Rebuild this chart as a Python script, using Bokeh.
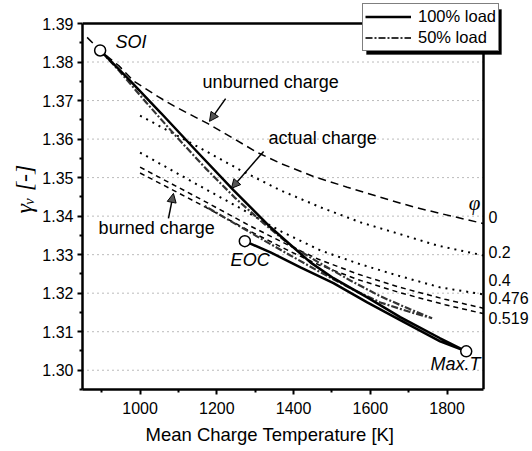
import numpy as np
from bokeh.plotting import figure
from bokeh.models import (Label, Arrow, NormalHead, Legend, LegendItem, Title, BoxAnnotation,
                          FixedTicker, Range1d, NumeralTickFormatter)
from bokeh.embed import file_html
from bokeh.resources import INLINE

# ---------------- data ----------------
x_ticks = [1000, 1200, 1400, 1600, 1800]
x_minor = [900, 1100, 1300, 1500, 1700]
y_ticks = [1.30, 1.31, 1.32, 1.33, 1.34, 1.35, 1.36, 1.37, 1.38, 1.39]
y_minor = [1.295, 1.305, 1.315, 1.325, 1.335, 1.345, 1.355, 1.365, 1.375, 1.385]
T_MIN, T_MAX = 850, 1895
G_MIN, G_MAX = 1.295, 1.39

phi0_T = [862, 896, 945, 984, 1047, 1088, 1177, 1306, 1366, 1452, 1540, 1626, 1712, 1782, 1894]
phi0_g = [1.3864, 1.3830, 1.3790, 1.3750, 1.3710, 1.3686, 1.3640, 1.3565, 1.3537, 1.3503,
          1.3475, 1.3449, 1.3424, 1.3407, 1.3381]

phi02_T = [1000, 1158, 1262, 1366, 1470, 1574, 1678, 1774, 1894]
phi02_g = [1.3661, 1.3576, 1.3519, 1.3467, 1.3423, 1.3384, 1.3353, 1.3324, 1.3298]

phi04_T = [1000, 1158, 1262, 1366, 1470, 1574, 1678, 1782, 1894]
phi04_g = [1.3565, 1.3477, 1.3420, 1.3361, 1.3311, 1.3275, 1.3244, 1.3215, 1.3197]

phi0476_T = [1000, 1158, 1288, 1392, 1465, 1569, 1678, 1795, 1894]
phi0476_g = [1.3527, 1.3444, 1.3374, 1.3322, 1.3288, 1.3249, 1.3215, 1.3184, 1.3161]
phi0519_T = [1000, 1158, 1288, 1392, 1465, 1569, 1678, 1795, 1894]
phi0519_g = [1.3512, 1.3430, 1.3360, 1.3308, 1.3274, 1.3235, 1.3201, 1.3170, 1.3147]

load100_T = [896, 969, 1055, 1145, 1244, 1340, 1444, 1504, 1592, 1678, 1782, 1850,
             1782, 1678, 1592, 1504, 1418, 1340, 1273]
load100_g = [1.3830, 1.3757, 1.3667, 1.3571, 1.3467, 1.3371, 1.3280, 1.3239, 1.3189, 1.3138,
             1.3083, 1.3049, 1.3075, 1.3130, 1.3176, 1.3226, 1.3267, 1.3306, 1.3335]

load50_T = [896, 945, 1016, 1094, 1171, 1249, 1319, 1392, 1465, 1548, 1626, 1704, 1761,
            1704, 1626, 1548, 1465, 1392, 1314, 1236, 1166]
load50_g = [1.3830, 1.3778, 1.3695, 1.3607, 1.3524, 1.3446, 1.3384, 1.3324, 1.3280, 1.3233,
            1.3192, 1.3158, 1.3135, 1.3151, 1.3176, 1.3213, 1.3257, 1.3298, 1.3342, 1.3387, 1.3428]

point_names = ["SOI", "EOC", "Max.T"]
point_T = [896, 1273, 1850]
point_g = [1.3830, 1.3335, 1.3049]

phi_labels = ["0", "0.2", "0.4", "0.476", "0.519"]
phi_label_g = [1.3397, 1.3306, 1.3233, 1.3187, 1.3135]

FONT = "Liberation Sans"

# the data box 850-1895 x 1.295-1.39 is 401 x 366 px; the frame is extended
# right and up so the phi labels and the legend sit inside it
K_PER_PX = (T_MAX - T_MIN) / 401.0
G_PER_PX = (G_MAX - G_MIN) / 366.0
W, H = 532, 451
LEFT, BOTTOM = 82, 62
x_end = T_MIN + (W - LEFT) * K_PER_PX
y_end = G_MIN + (H - BOTTOM) * G_PER_PX

p = figure(width=W, height=H, output_backend="svg", toolbar_location=None,
           x_range=Range1d(T_MIN, x_end), y_range=Range1d(G_MIN, y_end),
           min_border_left=LEFT, min_border_right=0, min_border_top=0, min_border_bottom=BOTTOM,
           title=None)
p.background_fill_color = "white"
p.border_fill_color = "white"
p.outline_line_color = None

p.xaxis.ticker = FixedTicker(ticks=x_ticks, minor_ticks=x_minor)
p.yaxis.ticker = FixedTicker(ticks=y_ticks, minor_ticks=y_minor)
p.yaxis.formatter = NumeralTickFormatter(format="0.00")
p.xaxis.bounds = (T_MIN, T_MAX)
p.yaxis.bounds = (G_MIN, G_MAX)
for ax in (p.xaxis[0], p.yaxis[0]):
    ax.axis_line_width = 2.5
    ax.axis_line_color = "black"
    ax.major_tick_in = 0
    ax.major_tick_out = 5
    ax.minor_tick_in = 0
    ax.minor_tick_out = 3
    ax.major_tick_line_width = 2
    ax.minor_tick_line_width = 2
    ax.major_tick_line_color = "black"
    ax.minor_tick_line_color = "black"
    ax.major_label_text_font = FONT
    ax.major_label_text_font_size = "16px"
    ax.major_label_text_color = "black"
p.yaxis.major_label_standoff = 4
p.xaxis.major_label_standoff = 7

p.xgrid.visible = False
p.ygrid.visible = False
# dotted horizontal grid between the axes
p.segment(x0=[T_MIN] * len(y_ticks), y0=y_ticks, x1=[T_MAX] * len(y_ticks), y1=y_ticks,
          line_color="#777777", line_width=1, line_dash="1 4")
# top and right frame lines
p.segment(x0=[T_MIN, T_MAX], y0=[G_MAX, G_MIN], x1=[T_MAX, T_MAX], y1=[G_MAX, G_MAX],
          line_color="black", line_width=2.5)

# burned / unburned property curves
p.line(phi0_T, phi0_g, line_color="black", line_width=1.5, line_dash="8 5")
p.line(phi02_T, phi02_g, line_color="black", line_width=2, line_dash="2 5")
p.line(phi04_T, phi04_g, line_color="black", line_width=2, line_dash="2 5")
p.line(phi0476_T, phi0476_g, line_color="black", line_width=1.5, line_dash="5 4")
p.line(phi0519_T, phi0519_g, line_color="black", line_width=1.5, line_dash="5 4")

# actual charge loops
r50 = p.line(load50_T, load50_g, line_color="#333333", line_width=2.2, line_dash="7 2 2 2")
r100 = p.line(load100_T, load100_g, line_color="black", line_width=2.5)

p.scatter(point_T, point_g, marker="circle", size=11, fill_color="white",
          line_color="black", line_width=1.5)

def lab(text, x, y, size="18px", style="normal", font=FONT, align="left", xo=0):
    p.add_layout(Label(x=x, y=y, text=text, x_offset=xo, text_font=font,
                       text_font_size=size, text_font_style=style, text_align=align,
                       text_baseline="middle", text_color="black"))

lab(point_names[0], 936, 1.3851, style="italic")
lab(point_names[1], 1236, 1.3287, style="italic")
lab(point_names[2], 1757, 1.3015, style="italic")
lab("unburned charge", 1163, 1.3747)
lab("actual charge", 1335, 1.3604)
lab("burned charge", 892, 1.3368)
lab("\u03c6", 1872, 1.3433, size="21px", style="italic", font="Liberation Serif", align="center")
for t, g in zip(phi_labels, phi_label_g):
    lab(t, T_MAX, g, size="16px", xo=5)

# axis titles
p.add_layout(Title(text="Mean Charge Temperature [K]", align="left", offset=63, standoff=10,
                   text_font=FONT, text_font_size="18.5px", text_font_style="normal",
                   text_color="black"), "below")
p.add_layout(Title(text="\u03b3\u1d65 [-]", align="left", offset=176, standoff=5,
                   text_font="Liberation Serif", text_font_size="24px",
                   text_font_style="italic", text_color="black"), "left")

# arrows
for (xs, ys, xe, ye) in [(1223, 1.3705, 1181, 1.3646),
                         (1322, 1.3568, 1238, 1.3472),
                         (1074, 1.3394, 1087, 1.3459)]:
    p.add_layout(Arrow(end=NormalHead(size=9, fill_color="#555555", line_color="black",
                                      line_width=1),
                       x_start=xs, y_start=ys, x_end=xe, y_end=ye,
                       line_width=1.5, line_color="black"))

# legend drop shadow (page box 366-501 x 9-54)
p.add_layout(BoxAnnotation(left=T_MIN + (366 - LEFT) * K_PER_PX,
                           right=T_MIN + (501 - LEFT) * K_PER_PX,
                           top=G_MAX - (9 - 23) * G_PER_PX,
                           bottom=G_MAX - (54 - 23) * G_PER_PX,
                           fill_color="black", fill_alpha=1.0, line_color="black"))
legend = Legend(items=[LegendItem(label="100% load", renderers=[r100]),
                       LegendItem(label="50% load", renderers=[r50])],
                location=(280, 338), padding=2, spacing=0, margin=0,
                glyph_width=46, glyph_height=21, label_height=21, label_standoff=7,
                label_text_font=FONT, label_text_font_size="16.5px",
                label_text_color="black",
                background_fill_color="white", background_fill_alpha=1.0,
                border_line_color="black", border_line_width=1.5)
p.add_layout(legend, "center")

open("out.html", "w").write(file_html(p, INLINE))
